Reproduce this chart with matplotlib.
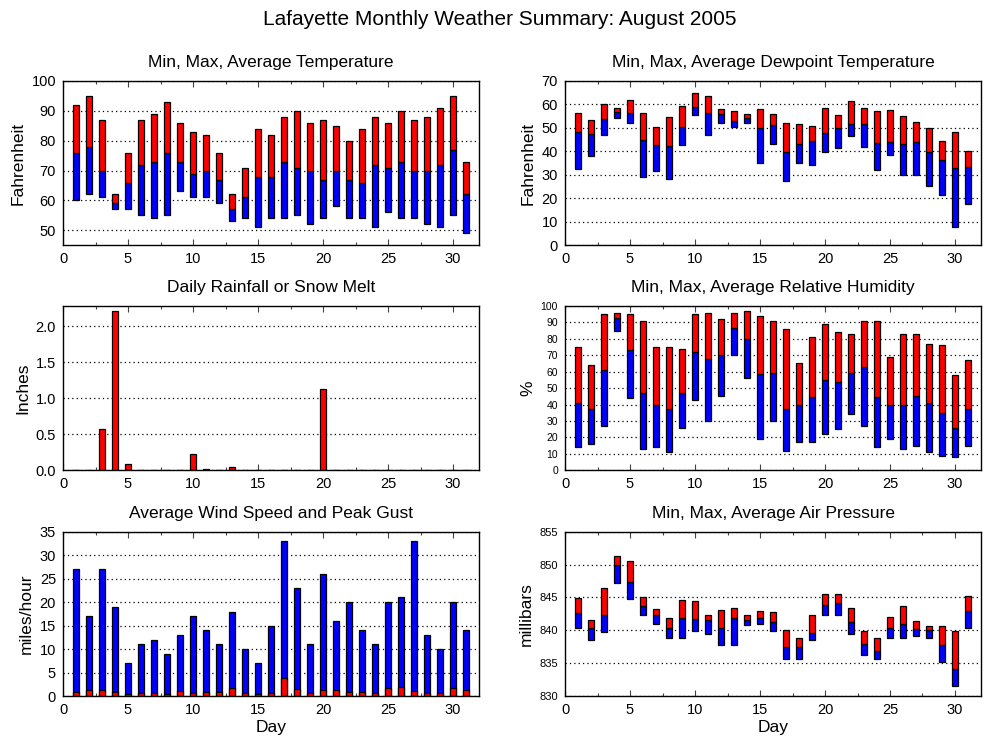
"""Lafayette monthly weather summary, August 2005 (six-panel gnuplot-style figure)."""
import numpy as np
import matplotlib
matplotlib.use("Agg")
import matplotlib.pyplot as plt
from matplotlib.ticker import MultipleLocator

plt.rcParams["font.family"] = ["Liberation Sans", "DejaVu Sans"]

days = np.arange(1, 32)

temp_max = [92, 95, 87, 62, 76, 87, 89, 93, 86, 83, 82, 76, 62, 71, 84, 82,
            88, 90, 86, 87, 85, 80, 84, 88, 86, 90, 87, 88, 91, 95, 73]
temp_avg = [76, 78, 70, 59, 66, 72, 73, 76, 73, 69, 70, 67, 57, 61, 68, 68,
            73, 71, 70, 67, 70, 67, 66, 72, 71, 73, 70, 70, 72, 77, 62]
temp_min = [60, 62, 61, 57, 57, 55, 54, 55, 63, 61, 61, 59, 53, 54, 51, 54,
            54, 55, 52, 54, 58, 54, 54, 51, 56, 54, 54, 52, 51, 55, 49]

dew_max = [56.5, 53.5, 60.3, 58.6, 62, 56.5, 50.5, 54.8, 59.5, 65, 63.4, 58.2, 57.4, 56.1, 58.2, 56.1,
           52.2, 51.8, 51, 58.6, 55.7, 61.6, 58.6, 57.4, 57.8, 55.2, 52.7, 50.1, 44.6, 48.4, 40.3]
dew_avg = [48.3, 47.4, 53.8, 56.9, 56.5, 45, 42.9, 42.4, 50.4, 59, 56.5, 56.1, 53.1, 54.4, 50, 51.4,
           39.7, 43.2, 44.6, 48, 50.1, 51.8, 51.8, 43.7, 44.1, 43.3, 44.1, 39.9, 36.5, 33.1, 33.5]
dew_min = [32.6, 38, 47.1, 54.4, 52.1, 29.2, 31.8, 28.4, 42.9, 55.5, 47.1, 52.2, 50.5, 52.2, 35.2, 43.2,
           27.5, 35.2, 34.3, 39.9, 41.6, 46.6, 42, 32.2, 38.6, 30, 30, 25.4, 21.6, 7.9, 17.7]

rain = [0, 0, 0.57, 2.21, 0.08, 0, 0, 0, 0, 0.23, 0.02, 0, 0.04, 0, 0, 0,
        0, 0, 0, 1.13, 0, 0, 0, 0, 0, 0, 0, 0, 0, 0, 0]

rh_max = [75, 64, 95, 96, 95, 91, 75, 75, 74, 95, 96, 92, 96, 97, 94, 91,
          86, 65, 81, 89, 84, 83, 91, 91, 69, 83, 83, 77, 76, 58, 67]
rh_avg = [41, 37, 61, 92.5, 73, 47, 40, 37, 47, 72, 67.5, 70, 86.5, 80, 58.5, 59,
          37, 39.5, 44.5, 55, 53.5, 59, 63, 44.5, 40, 39.5, 45, 41, 35, 25.5, 37]
rh_min = [14, 16, 27, 85, 44, 13, 14, 11, 25.5, 42.5, 30, 45.5, 70, 56, 19, 30,
          11.5, 17, 17, 22, 25, 34, 27, 14, 19, 13, 14.5, 11, 8.5, 8, 14.5]

wind_gust = [27, 17, 27, 19, 7, 11, 12, 9, 13, 17, 14, 11, 18, 10, 7, 15,
             33, 23, 11, 26, 16, 20, 14, 11, 20, 21, 33, 13, 10, 20, 14]
wind_avg = [0.8, 1.3, 1.3, 0.8, 0.4, 0.6, 0.6, 0.4, 1.1, 0.6, 0.8, 0.8, 1.7, 0.6, 0.4, 0.6,
            3.8, 1.5, 0.6, 1.3, 1.3, 0.8, 0.8, 0.6, 1.7, 1.9, 1.1, 0.6, 0.6, 1.7, 1.3]

pres_max = [844.9, 841.5, 846.5, 851.3, 850.6, 845.0, 843.2, 841.8, 844.6, 844.4, 842.4, 843.1, 843.4, 842.3,
            842.9, 842.8, 840.0, 838.8, 842.4, 845.6, 845.5, 843.4, 839.9, 838.8, 842.0, 843.7, 841.4,
            840.6, 840.6, 839.9, 845.2]
pres_avg = [842.6, 840.3, 842.3, 850.0, 847.3, 843.7, 842.3, 840.3, 841.8, 841.7, 841.5, 840.3, 841.8, 841.5,
            841.8, 841.2, 837.4, 837.4, 839.6, 843.8, 844.1, 841.2, 837.9, 836.8, 840.3, 840.9, 840.2,
            840.0, 837.7, 834.1, 842.9]
pres_min = [840.3, 838.5, 839.7, 847.2, 844.7, 842.3, 840.9, 838.8, 838.8, 839.9, 839.4, 837.7, 837.7, 840.8,
            840.9, 839.9, 835.6, 835.6, 838.5, 842.4, 842.4, 839.4, 836.2, 835.6, 838.8, 838.8, 839.1,
            838.8, 835.2, 831.5, 840.3]

RED, BLUE = "#ff0000", "#0000ff"
W = 0.46


def style(ax, title, ylabel, ylim, ystep, tick_fs=10.5, xlabel=None):
    ax.set_xlim(0, 32)
    ax.set_ylim(*ylim)
    ax.xaxis.set_major_locator(MultipleLocator(5))
    ax.xaxis.set_minor_locator(MultipleLocator(2.5))
    ax.yaxis.set_major_locator(MultipleLocator(ystep))
    ax.tick_params(axis="x", which="both", direction="in", top=True, length=4, width=0.8,
                   color="#444444", labelsize=10.5, pad=5)
    ax.tick_params(axis="x", which="minor", length=2)
    ax.tick_params(axis="y", direction="in", right=True, length=0, labelsize=tick_fs, pad=5)
    ax.grid(axis="y", color="black", ls=(0, (1, 2.5)), lw=0.9)
    ax.set_axisbelow(True)
    for s in ax.spines.values():
        s.set_linewidth(1.0)
    ax.set_title(title, fontsize=12.5, pad=10)
    ax.set_ylabel(ylabel, fontsize=12.5)
    if xlabel:
        ax.set_xlabel(xlabel, fontsize=12.5, labelpad=2)


def min_avg_max(ax, lo, mid, hi):
    lo, mid, hi = map(np.asarray, (lo, mid, hi))
    ax.bar(days, mid - lo, W, bottom=lo, color=BLUE, edgecolor="black", lw=0.9)
    ax.bar(days, hi - mid, W, bottom=mid, color=RED, edgecolor="black", lw=0.9)


fig = plt.figure(figsize=(10, 7.5), dpi=100)
L1, L2, AW, AH = 0.063, 0.565, 0.416, 0.219
ax_t = fig.add_axes([L1, 0.673, AW, AH])
ax_d = fig.add_axes([L2, 0.673, AW, AH])
ax_r = fig.add_axes([L1, 0.373, AW, AH])
ax_h = fig.add_axes([L2, 0.373, AW, AH])
ax_w = fig.add_axes([L1, 0.072, AW, AH])
ax_p = fig.add_axes([L2, 0.072, AW, AH])

min_avg_max(ax_t, temp_min, temp_avg, temp_max)
style(ax_t, "Min, Max, Average Temperature", "Fahrenheit", (45, 100), 10)

min_avg_max(ax_d, dew_min, dew_avg, dew_max)
style(ax_d, "Min, Max, Average Dewpoint Temperature", "Fahrenheit", (0, 70), 10)

ax_r.bar(days, rain, W, color=RED, edgecolor="black", lw=0.9)
style(ax_r, "Daily Rainfall or Snow Melt", "Inches", (0, 2.28), 0.5)
ax_r.yaxis.set_major_formatter(matplotlib.ticker.FormatStrFormatter("%.1f"))

min_avg_max(ax_h, rh_min, rh_avg, rh_max)
style(ax_h, "Min, Max, Average Relative Humidity", "%", (0, 100), 10, tick_fs=7.5)

ax_w.bar(days, wind_gust, W, color=BLUE, edgecolor="black", lw=0.9)
ax_w.bar(days, wind_avg, W, color=RED, edgecolor="black", lw=0.9)
style(ax_w, "Average Wind Speed and Peak Gust", "miles/hour", (0, 35), 5, xlabel="Day")

min_avg_max(ax_p, pres_min, pres_avg, pres_max)
style(ax_p, "Min, Max, Average Air Pressure", "millibars", (830, 855), 5, tick_fs=8, xlabel="Day")

fig.suptitle("Lafayette Monthly Weather Summary: August 2005", fontsize=15, y=0.987)
fig.savefig("out.png", dpi=100)
